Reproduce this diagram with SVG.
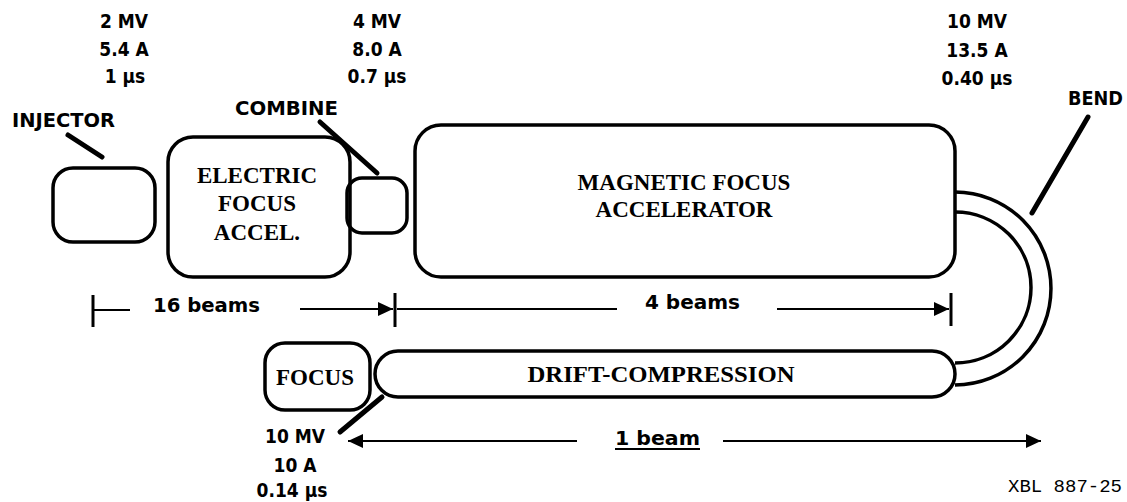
<svg xmlns="http://www.w3.org/2000/svg" width="1127" height="502" viewBox="0 0 1127 502">
<style>
.box{fill:none;stroke:#000;stroke-width:3.5}
.lead{stroke:#000;stroke-width:5;stroke-linecap:round}
.dim{stroke:#000;stroke-width:2;fill:none}
.tick{stroke:#000;stroke-width:3}
.bend{fill:none;stroke:#000;stroke-width:3.5}
.sans{font-family:"DejaVu Sans Condensed","DejaVu Sans",sans-serif;font-stretch:condensed;font-weight:bold;font-size:19px;fill:#000}
.serif{font-family:"Liberation Serif","Times New Roman",serif;font-weight:bold;font-size:23px;fill:#000}
.mono{font-family:"Liberation Mono","Courier New",monospace;font-size:19px;fill:#000}
</style>
<defs>
<marker id="ah" markerUnits="userSpaceOnUse" markerWidth="16" markerHeight="14" refX="15" refY="7" orient="auto-start-reverse">
<path d="M0,0 L15,7 L0,14 Z" fill="#000"/>
</marker>
</defs>
<rect width="1127" height="502" fill="#fff"/>

<g id="labels-top" class="sans" text-anchor="middle">
<text x="124" y="28">2 MV</text>
<text x="124" y="56">5.4 A</text>
<text x="125" y="83">1 µs</text>
<text x="377" y="28">4 MV</text>
<text x="377" y="56">8.0 A</text>
<text x="377" y="83">0.7 µs</text>
<text x="977" y="28">10 MV</text>
<text x="977" y="57">13.5 A</text>
<text x="977" y="85">0.40 µs</text>
</g>

<g id="injector">
<text class="sans" x="12" y="127" textLength="103" lengthAdjust="spacingAndGlyphs">INJECTOR</text>
<rect class="box" x="53" y="168" width="102" height="74" rx="20"/>
</g>

<g id="electric-focus">
<rect class="box" x="168" y="137" width="182" height="140" rx="25"/>
<text class="serif" x="257" y="183" text-anchor="middle">ELECTRIC</text>
<text class="serif" x="257" y="211" text-anchor="middle">FOCUS</text>
<text class="serif" x="257" y="240" text-anchor="middle">ACCEL.</text>
</g>

<g id="combine">
<text class="sans" x="235" y="115" textLength="103" lengthAdjust="spacingAndGlyphs">COMBINE</text>
<rect class="box" x="347" y="178" width="60" height="55" rx="15"/>
</g>

<g id="magnetic-focus">
<rect class="box" x="415" y="125" width="540" height="152" rx="26"/>
<text class="serif" x="684" y="190" text-anchor="middle">MAGNETIC FOCUS</text>
<text class="serif" x="684" y="217" text-anchor="middle">ACCELERATOR</text>
</g>

<g id="bend">
<text class="sans" x="1068" y="105" textLength="55" lengthAdjust="spacingAndGlyphs">BEND</text>
<path class="bend" d="M955,192 A96,96.5 0 0 1 955,385"/>
<path class="bend" d="M955,212 A76,75.5 0 0 1 955,363"/>
</g>

<g id="focus">
<rect class="box" x="265" y="343" width="105" height="67" rx="20"/>
<text class="serif" x="315" y="385" text-anchor="middle" font-size="24">FOCUS</text>
</g>

<g id="drift-compression">
<rect class="box" x="375" y="351" width="580" height="46" rx="23"/>
<text class="serif" x="661" y="382" text-anchor="middle" textLength="267" lengthAdjust="spacingAndGlyphs">DRIFT-COMPRESSION</text>
</g>

<g id="labels-bottom" class="sans" text-anchor="middle">
<text x="295" y="443">10 MV</text>
<text x="295" y="472">10 A</text>
<text x="292" y="497">0.14 µs</text>
</g>

<g id="connectors">
<line class="lead" x1="68" y1="135" x2="102" y2="157"/>
<line class="lead" x1="320" y1="122" x2="377" y2="173"/>
<line class="lead" x1="382" y1="397" x2="340" y2="432"/>
<line class="lead" x1="1088" y1="117" x2="1032" y2="213"/>

<line class="tick" x1="93" y1="295" x2="93" y2="327"/>
<line class="dim" x1="93" y1="310" x2="130" y2="310"/>
<line class="dim" x1="300" y1="309" x2="393" y2="309" marker-end="url(#ah)"/>
<line class="tick" x1="395" y1="293" x2="395" y2="327"/>
<line class="dim" x1="397" y1="309" x2="617" y2="309"/>
<line class="dim" x1="777" y1="309" x2="949" y2="309" marker-end="url(#ah)"/>
<line class="tick" x1="951" y1="293" x2="951" y2="326"/>

<line class="dim" x1="577" y1="441" x2="348" y2="441" marker-end="url(#ah)"/>
<line class="dim" x1="723" y1="441" x2="1041" y2="441" marker-end="url(#ah)"/>
</g>

<g id="dim-labels" class="sans">
<text x="153" y="312" textLength="107" lengthAdjust="spacingAndGlyphs">16 beams</text>
<text x="645" y="309" textLength="95" lengthAdjust="spacingAndGlyphs">4 beams</text>
<text x="615" y="445" textLength="85" lengthAdjust="spacingAndGlyphs">1 beam</text>
<line x1="615" y1="449" x2="700" y2="449" stroke="#000" stroke-width="2"/>
</g>

<text class="mono" x="1008" y="492">XBL 887-25</text>
</svg>
